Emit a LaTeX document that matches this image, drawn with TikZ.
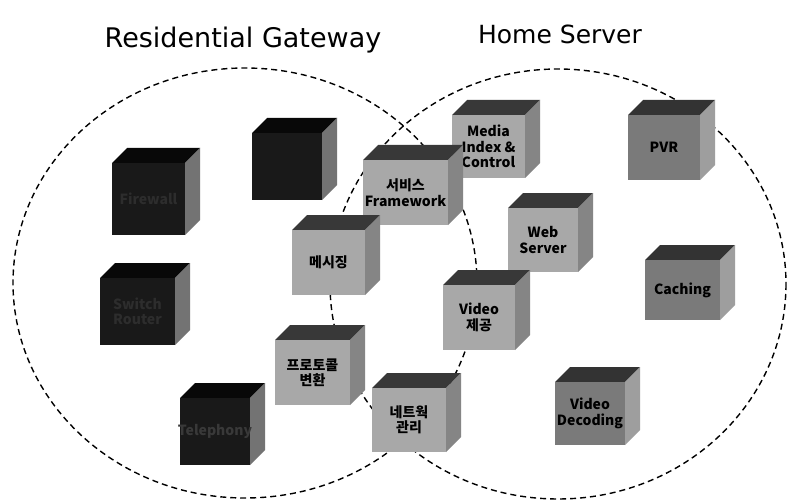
\documentclass[tikz,border=0pt]{standalone}
\usepackage{fontspec}
\setmainfont{DejaVu Sans}
\newfontfamily\kr{Noto Sans CJK KR}
\definecolor{lfront}{gray}{0.66}
\definecolor{ltop}{gray}{0.22}
\definecolor{lside}{gray}{0.52}
\definecolor{mfront}{gray}{0.48}
\definecolor{mtop}{gray}{0.2}
\definecolor{mside}{gray}{0.62}
\definecolor{dfront}{gray}{0.1}
\definecolor{dtop}{gray}{0.03}
\definecolor{dside}{gray}{0.45}
\newcommand{\mycube}[8]{%
  % #1 name, #2 x, #3 y, #4 w, #5 h, #6 scheme prefix, #7 label, #8 text colour
  \fill[#6top] (#2,#3) -- ++(15,-15) -- ++(#4,0) -- ++(-15,15) -- cycle;
  \fill[#6side] (#2+#4,#3) -- ++(15,-15) -- ++(0,#5) -- ++(-15,15) -- cycle;
  \fill[#6front] (#2,#3) rectangle ++(#4,#5);
  \node[cubetext,text=#8] (#1) at (#2+#4/2,#3+#5/2) {#7};
}
\begin{document}
\begin{tikzpicture}[x=1pt,y=-1pt,
  circ/.style={draw=black,line width=1.4pt,dash pattern=on 6pt off 4pt},
  cubetext/.style={font=\kr\bfseries\fontsize{14}{15.5}\selectfont,align=center,inner sep=0pt}]
\useasboundingbox (0,0) rectangle (790,500);
\fill[white] (0,0) rectangle (790,500);
\draw[circ] (245,283) ellipse [x radius=232, y radius=215];
\draw[circ] (558,284) ellipse [x radius=228, y radius=215];
\node[font=\fontsize{27}{30}\selectfont] (rg) at (243,40) {Residential Gateway};
\node[font=\fontsize{25}{28}\selectfont] (hs) at (560,34) {Home Server};
% dark cubes
\mycube{fw}{112}{163}{73}{72}{d}{Firewall}{gray!35!black}
\mycube{dk}{252}{133}{70}{67}{d}{}{gray!35!black}
\mycube{sr}{100}{278}{75}{67}{d}{Switch\\Router}{gray!35!black}
\mycube{tel}{180}{398}{70}{67}{d}{Telephony}{gray!45!black}
% light cubes
\mycube{mic}{452}{115}{73}{63}{l}{Media\\Index \&\\Control}{black}
\mycube{svc}{363}{160}{85}{65}{l}{서비스\\Framework}{black}
\mycube{msg}{292}{230}{73}{65}{l}{메시징}{black}
\mycube{web}{508}{208}{70}{64}{l}{Web\\Server}{black}
\mycube{vid}{443}{285}{72}{65}{l}{Video\\제공}{black}
\mycube{prt}{275}{340}{75}{65}{l}{프로토콜\\변환}{black}
\mycube{net}{372}{388}{74}{64}{l}{네트웍\\관리}{black}
% medium cubes
\mycube{pvr}{628}{115}{72}{65}{m}{PVR}{black}
\mycube{cch}{645}{260}{75}{60}{m}{Caching}{black}
\mycube{vdc}{555}{382}{70}{63}{m}{Video\\Decoding}{black}
\end{tikzpicture}
\end{document}
